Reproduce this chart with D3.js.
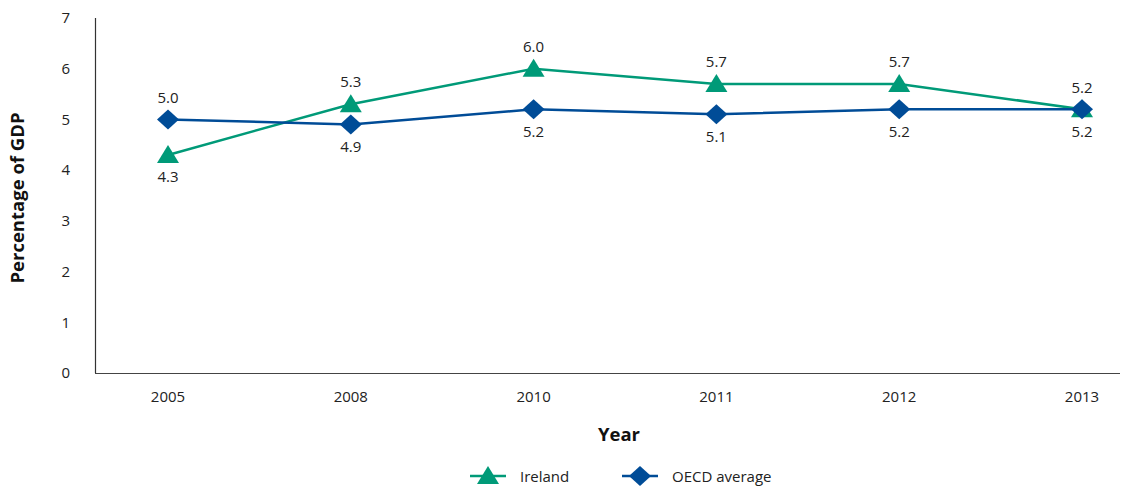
<!DOCTYPE html>
<html><head><meta charset="utf-8">
<script src="https://cdn.jsdelivr.net/npm/d3@7"></script>
<style>body{margin:0;background:#fff;}svg{display:block;font-family:"Open Sans",Lato,sans-serif;}</style>
</head><body><svg id="c" width="1128" height="486"></svg>
<script>
const years = ["2005","2008","2010","2011","2012","2013"];
const ireland = [4.3, 5.3, 6.0, 5.7, 5.7, 5.2];
const oecd = [5.0, 4.9, 5.2, 5.1, 5.2, 5.2];
const yTicks = [0,1,2,3,4,5,6,7];
const irelandLabelPos = ["below","above","above","above","above","above"];
const oecdLabelPos = ["above","below","below","below","below","below"];

const svg = d3.select("#c");
const x = d3.scalePoint().domain(years).range([168, 1082]);
const y = d3.scaleLinear().domain([0,7]).range([373, 18]);
const green = "#009a78", blue = "#004c97";

// axes
svg.append("line").attr("x1",95.5).attr("x2",95.5).attr("y1",18).attr("y2",373).attr("stroke","#333").attr("stroke-width",1.2);
svg.append("line").attr("x1",95).attr("x2",1120).attr("y1",373.5).attr("y2",373.5).attr("stroke","#444").attr("stroke-width",1.2);
svg.selectAll(".yt").data(yTicks).join("text").attr("x",70).attr("y",d=>y(d)).attr("dy","0.35em")
  .attr("text-anchor","end").attr("font-size",15).attr("fill","#222").text(d=>d);
svg.selectAll(".xt").data(years).join("text").attr("x",d=>x(d)).attr("y",397).attr("dy","0.35em")
  .attr("text-anchor","middle").attr("font-size",15).attr("fill","#222").text(d=>d);
svg.append("text").attr("transform","translate(24,198) rotate(-90)").attr("text-anchor","middle")
  .attr("font-size",18.5).attr("font-weight","bold").attr("fill","#111").text("Percentage of GDP");
svg.append("text").attr("x",619).attr("y",441).attr("text-anchor","middle")
  .attr("font-size",18.5).attr("font-weight","bold").attr("fill","#111").text("Year");

const line = d3.line().x((d,i)=>x(years[i])).y(d=>y(d));
function series(vals, color, shape, pos){
  svg.append("path").datum(vals).attr("d",line).attr("fill","none").attr("stroke",color).attr("stroke-width",2.5);
  svg.selectAll(null).data(vals).join("path")
    .attr("transform",(d,i)=>`translate(${x(years[i])},${y(d)})`)
    .attr("d",shape).attr("fill",color);
  svg.selectAll(null).data(vals).join("text")
    .attr("x",(d,i)=>x(years[i])).attr("y",(d,i)=>y(d)+(pos[i]==="above"?-22:22)).attr("dy","0.35em")
    .attr("text-anchor","middle").attr("font-size",15).attr("fill","#222").text(d=>d.toFixed(1));
}
const tri = "M0,-10L11,8L-11,8Z";
const dia = "M0,-10L11,0L0,10L-11,0Z";
series(ireland, green, tri, irelandLabelPos);
series(oecd, blue, dia, oecdLabelPos);

// legend
const lg = [{n:"Ireland",c:green,s:tri,x:470},{n:"OECD average",c:blue,s:dia,x:622}];
lg.forEach(l=>{
  svg.append("line").attr("x1",l.x).attr("x2",l.x+36).attr("y1",476).attr("y2",476).attr("stroke",l.c).attr("stroke-width",2.5);
  svg.append("path").attr("d",l.s).attr("transform",`translate(${l.x+18},476)`).attr("fill",l.c);
  svg.append("text").attr("x",l.x+50).attr("y",477).attr("dy","0.35em").attr("font-size",15).attr("fill","#222").text(l.n);
});
</script></body></html>
